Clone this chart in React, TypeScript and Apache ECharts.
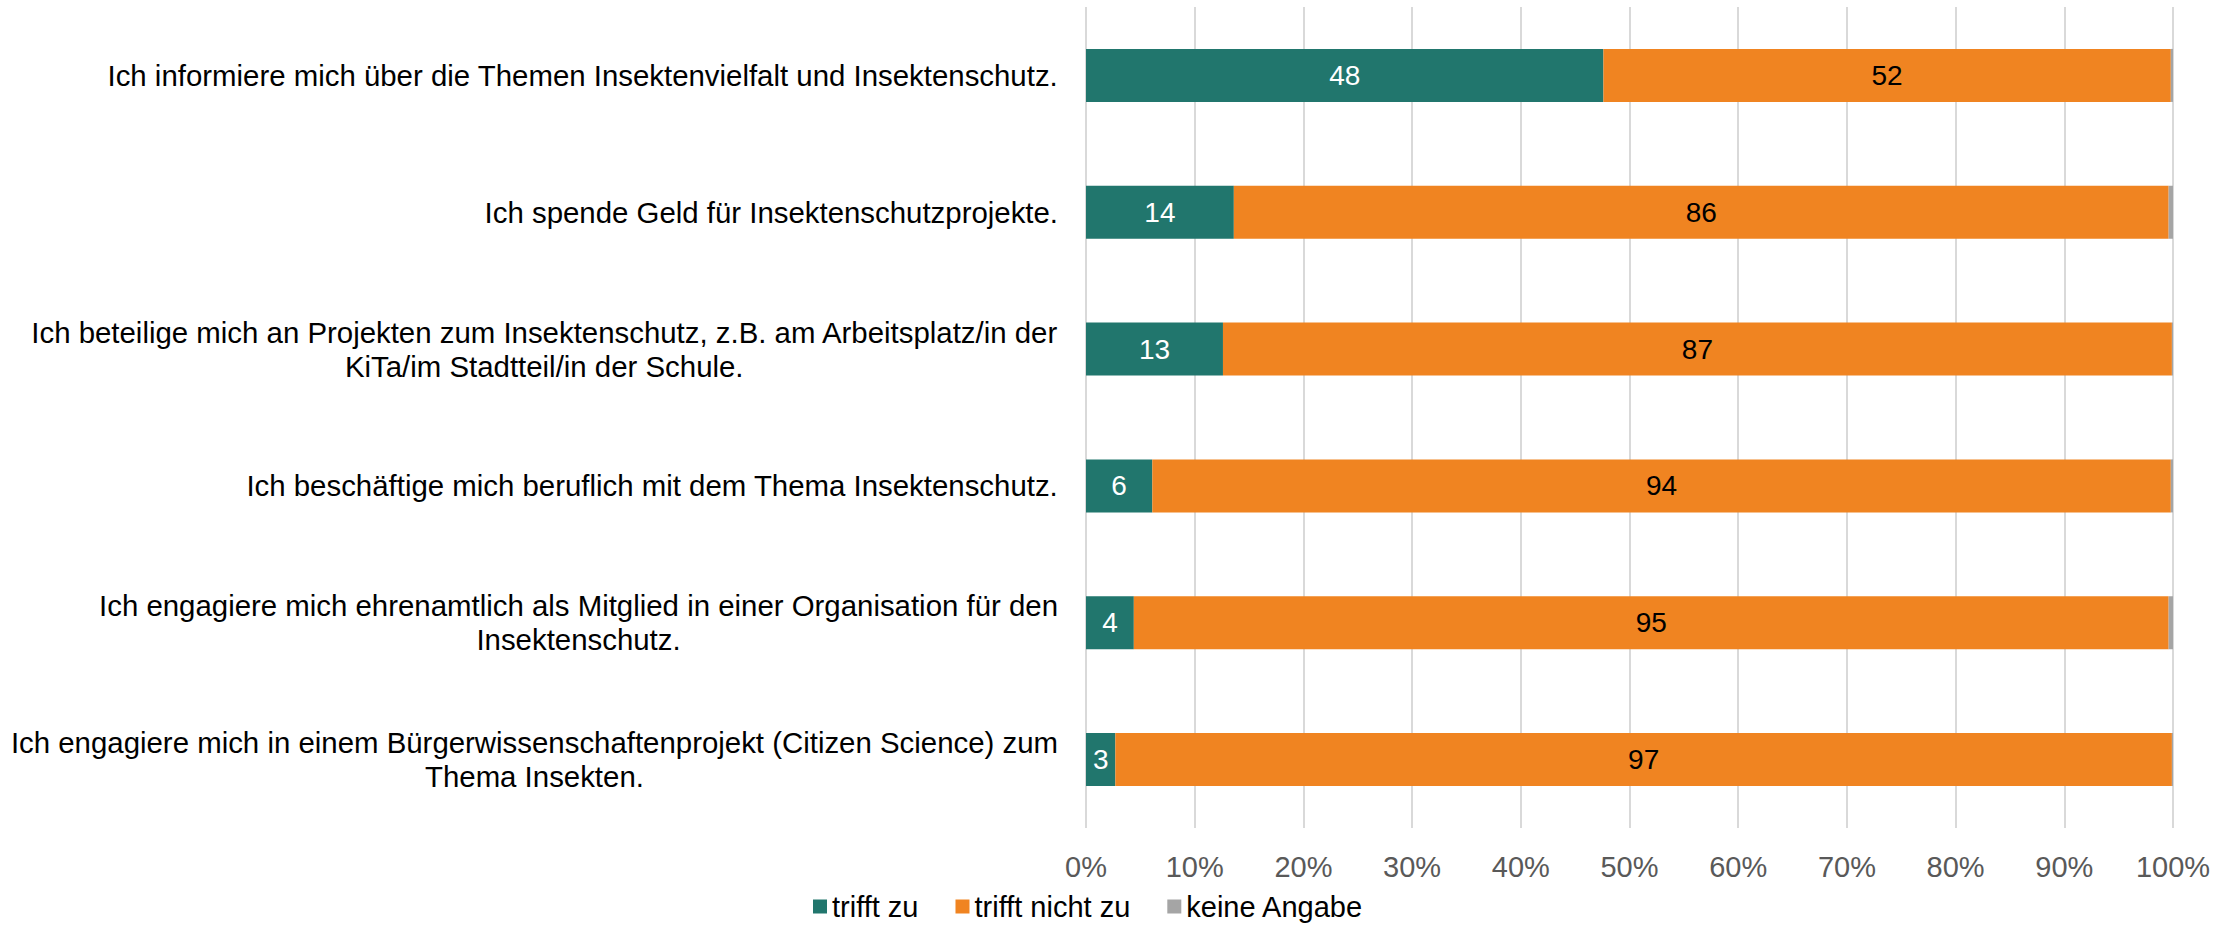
import React, { useEffect, useRef } from "react";
import * as echarts from "echarts";

const categories = [
  "Ich informiere mich über die Themen Insektenvielfalt und Insektenschutz.",
  "Ich spende Geld für Insektenschutzprojekte.",
  "Ich beteilige mich an Projekten zum Insektenschutz, z.B. am Arbeitsplatz/in der KiTa/im Stadtteil/in der Schule.",
  "Ich beschäftige mich beruflich mit dem Thema Insektenschutz.",
  "Ich engagiere mich ehrenamtlich als Mitglied in einer Organisation für den Insektenschutz.",
  "Ich engagiere mich in einem Bürgerwissenschaftenprojekt (Citizen Science) zum Thema Insekten.",
];
const seriesNames = ["trifft zu", "trifft nicht zu", "keine Angabe"];
const trifftZu = [47.6, 13.6, 12.6, 6.1, 4.4, 2.7];
const trifftNichtZu = [52.2, 86.0, 87.3, 93.7, 95.2, 97.2];
const keineAngabe = [0.2, 0.4, 0.1, 0.2, 0.4, 0.1];
const xTicks = [0, 10, 20, 30, 40, 50, 60, 70, 80, 90, 100];

const FONT = "'Liberation Sans', Arial, sans-serif";

function wrap(text: string, maxChars: number): string[] {
  const words = text.split(" ");
  const lines: string[] = [];
  let cur = "";
  for (const w of words) {
    const next = cur ? cur + " " + w : w;
    if (next.length > maxChars && cur) {
      lines.push(cur);
      cur = w;
    } else {
      cur = next;
    }
  }
  if (cur) lines.push(cur);
  return lines;
}

export default function App() {
  const ref = useRef<HTMLDivElement>(null);
  useEffect(() => {
    if (!ref.current) return;
    const chart = echarts.init(ref.current, undefined, { renderer: "svg" });
    const colors = ["#21766D", "#F08421", "#A5A5A5"];
    const values = [trifftZu, trifftNichtZu, keineAngabe];
    chart.setOption({
      animation: false,
      backgroundColor: "#ffffff",
      textStyle: { fontFamily: FONT },
      grid: { left: 1086, right: 66, top: 7, bottom: 97, containLabel: false },
      legend: {
        top: 892,
        left: 813,
        padding: 0,
        itemWidth: 14,
        itemHeight: 14,
        itemGap: 37,
        icon: "rect",
        textStyle: { fontFamily: FONT, fontSize: 29, color: "#000000" },
        data: seriesNames,
      },
      xAxis: {
        type: "value",
        min: 0,
        max: 100,
        interval: 10,
        axisLine: { show: false },
        axisTick: { show: false },
        splitLine: { show: true, lineStyle: { color: "#D9D9D9", width: 2 } },
        axisLabel: {
          margin: 24,
          fontFamily: FONT,
          fontSize: 29,
          color: "#595959",
          formatter: (v: number) => (xTicks.includes(v) ? v + "%" : ""),
        },
      },
      yAxis: {
        type: "category",
        inverse: true,
        data: categories,
        axisLine: { show: false },
        axisTick: { show: false },
        axisLabel: {
          margin: 28,
          align: "right",
          fontFamily: FONT,
          fontSize: 29.4,
          color: "#000000",
          lineHeight: 34,
          formatter: (v: string) =>
            wrap(v, 80)
              .map((l) => `{c|${l}}`)
              .join("\n"),
          rich: {
            c: {
              align: "center",
              fontFamily: FONT,
              fontSize: 29.4,
              color: "#000000",
              lineHeight: 34,
            },
          },
        },
      },
      series: seriesNames.map((name, i) => ({
        name,
        type: "bar",
        stack: "total",
        barWidth: 53,
        itemStyle: { color: colors[i] },
        label: {
          show: i < 2,
          position: "inside",
          fontFamily: FONT,
          fontSize: 28,
          color: i === 0 ? "#ffffff" : "#000000",
          formatter: (p: any) => String(Math.round(p.value)),
        },
        data: values[i],
      })),
    });
    return () => chart.dispose();
  }, []);
  return (
    <div
      ref={ref}
      style={{ position: "fixed", left: 0, top: 0, width: 2239, height: 925, background: "#fff" }}
    />
  );
}
